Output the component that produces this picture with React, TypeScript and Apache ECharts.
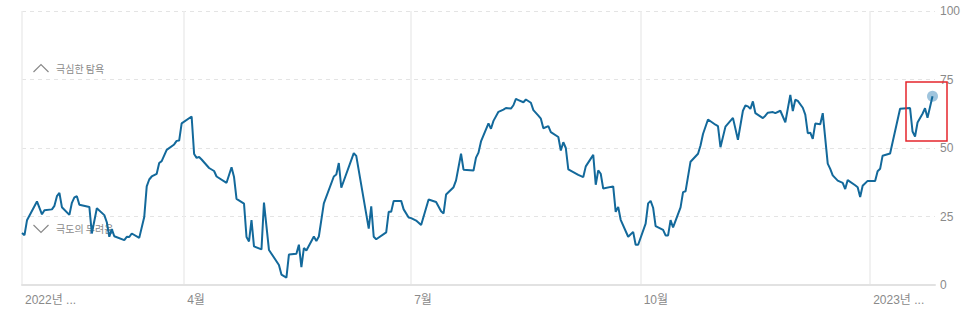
import React, { useEffect, useRef } from 'react';
import * as echarts from 'echarts';

// ---- data ----
const START_DATE = '2022-01-26';
const DAY_COUNT = 367; // calendar days shown on the axis, 2022-01-26 .. 2023-01-27

// days since START_DATE of each visible vertex of the index line
const pointDays = [
  0, 1, 2, 6, 8, 9, 12, 13, 14, 15, 16, 19, 20, 21, 22, 23, 27, 28, 30, 33,
  34, 35, 36, 37, 41, 42, 43, 44, 47, 49, 50, 51, 52, 54, 55, 56, 58, 61, 62, 63,
  64, 68, 69, 70, 71, 72, 75, 77, 78, 82, 84, 85, 86, 89, 90, 91, 92, 93, 96, 97,
  99, 103, 104, 106, 107, 110, 111, 112, 113, 114, 117, 118, 119, 121, 125, 126, 127, 128, 133, 134,
  139, 140, 141, 142, 146, 147, 148, 149, 152, 153, 155, 156, 158, 160, 163, 166, 168, 169, 170, 173,
  174, 176, 177, 181, 182, 183, 184, 187, 188, 189, 191, 193, 194, 196, 197, 198, 199, 201, 202, 204,
  205, 207, 208, 209, 211, 212, 215, 216, 217, 218, 219, 223, 225, 226, 229, 230, 231, 232, 233, 237,
  238, 239, 240, 243, 245, 246, 247, 250, 251, 252, 253, 254, 257, 258, 259, 260, 261, 264, 265, 266,
  268, 271, 272, 273, 275, 278, 279, 280, 282, 285, 287, 289, 290, 291, 292, 293, 294, 297, 298, 299,
  301, 302, 304, 306, 308, 309, 310, 311, 313, 314, 315, 316, 317, 318, 320, 321, 323, 324, 325, 327,
  329, 330, 331, 334, 335, 336, 337, 339, 342, 343, 344, 345, 348, 349, 352, 356, 357, 358, 359, 361,
  362, 363, 365,
];

const pointValues = [
  19.0, 18.2, 23.6, 30.5, 25.8, 27.3, 27.6, 28.9, 32.4, 33.6, 28.4, 25.6, 30.0, 32.0, 32.4, 29.3, 28.5, 18.8, 28.0, 25.5,
  22.9, 17.6, 20.4, 17.8, 16.4, 17.6, 17.5, 18.8, 17.2, 24.8, 36.0, 38.5, 39.6, 40.6, 44.5, 45.2, 49.3, 51.3, 52.6, 52.7,
  59.0, 61.5, 47.8, 46.4, 46.7, 45.8, 42.7, 41.6, 39.6, 37.3, 43.0, 39.4, 31.4, 29.7, 17.5, 15.9, 23.7, 14.1, 13.0, 30.1,
  12.8, 7.3, 3.8, 2.7, 11.1, 11.4, 14.7, 6.5, 13.5, 12.6, 17.7, 16.1, 17.7, 29.8, 39.6, 40.3, 44.5, 35.5, 48.1, 47.1,
  20.6, 28.7, 17.6, 16.7, 19.2, 26.7, 26.7, 30.7, 30.7, 27.6, 24.6, 24.4, 23.5, 21.9, 31.2, 30.3, 26.9, 26.1, 33.0, 35.7,
  38.2, 47.9, 42.1, 41.8, 46.5, 48.3, 52.4, 59.0, 57.0, 59.9, 63.2, 64.0, 64.6, 64.4, 65.6, 67.9, 67.5, 66.7, 67.7, 66.5,
  63.8, 61.8, 60.7, 57.2, 58.0, 55.8, 54.0, 49.1, 52.1, 50.0, 42.2, 40.2, 39.4, 43.3, 47.5, 36.6, 41.8, 40.6, 35.2, 36.0,
  26.7, 28.5, 23.8, 17.6, 19.4, 14.7, 14.7, 22.4, 29.8, 30.7, 28.2, 21.5, 20.1, 18.1, 18.1, 23.7, 21.0, 28.3, 33.9, 34.2,
  45.0, 47.9, 50.9, 55.1, 60.4, 58.5, 58.0, 50.3, 57.8, 61.0, 53.0, 63.6, 65.5, 65.2, 64.3, 67.0, 62.7, 60.9, 61.8, 62.9,
  63.1, 62.7, 63.6, 59.4, 69.4, 63.5, 67.6, 67.2, 64.7, 62.2, 55.4, 55.6, 53.3, 58.9, 58.7, 62.7, 44.3, 42.4, 40.0, 38.1,
  37.3, 35.0, 38.3, 36.4, 35.7, 32.1, 36.2, 38.0, 38.0, 41.5, 42.4, 47.2, 48.0, 52.1, 64.3, 64.6, 56.0, 54.2, 59.3, 62.5,
  64.5, 61.0, 68.9,
];

const xLabelDates = ['2022-01-26', '2022-04-01', '2022-07-01', '2022-10-01', '2023-01-01'];
const xLabelTexts = ['2022년 ...', '4월', '7월', '10월', '2023년 ...'];
const yMin = 0;
const yMax = 100;
const yStep = 25;
const zoneTexts = ['극심한 탐욕', '극도의 두려움'];

// ---- helpers ----
function buildCategories(): string[] {
  const [y, m, d] = START_DATE.split('-').map(Number);
  const out: string[] = [];
  for (let i = 0; i < DAY_COUNT; i++) {
    out.push(new Date(Date.UTC(y, m - 1, d + i)).toISOString().slice(0, 10));
  }
  return out;
}

const FONT = '"Liberation Sans", Arial, "Noto Sans CJK KR", sans-serif';
const GRAY = '#8a8a8a';

export default function App() {
  const ref = useRef<HTMLDivElement>(null);

  useEffect(() => {
    if (!ref.current) return;
    const chart = echarts.init(ref.current, null, { renderer: 'svg' });

    const categories = buildCategories();
    const lineData: (number | null)[] = categories.map(() => null);
    pointDays.forEach((day, i) => {
      lineData[day] = pointValues[i];
    });
    const labelMap = new Map<string, string>(xLabelDates.map((d, i) => [d, xLabelTexts[i]]));
    const lastDay = pointDays[pointDays.length - 1];
    const lastValue = pointValues[pointValues.length - 1];

    chart.setOption({
      animation: false,
      grid: { left: 22, right: 31, top: 11, bottom: 33 },
      xAxis: {
        type: 'category',
        data: categories,
        boundaryGap: false,
        axisLine: { show: true, lineStyle: { color: '#e2e2e2', width: 2 } },
        axisTick: { show: false },
        axisLabel: {
          interval: (_i: number, v: string) => labelMap.has(v),
          formatter: (v: string) => labelMap.get(v) ?? '',
          align: 'left',
          padding: [0, 0, 0, 3],
          margin: 9,
          color: GRAY,
          fontSize: 12,
          fontFamily: FONT,
        },
        splitLine: {
          show: true,
          interval: (_i: number, v: string) => labelMap.has(v),
          lineStyle: { color: '#ececec', width: 1.5 },
        },
      },
      yAxis: {
        type: 'value',
        position: 'right',
        min: yMin,
        max: yMax,
        interval: yStep,
        axisLine: { show: false },
        axisTick: { show: false },
        axisLabel: { margin: 5, color: GRAY, fontSize: 12, fontFamily: FONT, align: 'left' },
        splitLine: { lineStyle: { color: '#e4e4e4', width: 1, type: [4, 4] } },
      },
      series: [
        {
          type: 'line',
          data: lineData,
          connectNulls: true,
          showSymbol: false,
          symbol: 'none',
          z: 3,
          lineStyle: { color: '#13699b', width: 2 },
          itemStyle: { color: '#13699b' },
        },
        {
          type: 'scatter',
          data: [[lastDay, lastValue]],
          symbolSize: 11,
          z: 2,
          itemStyle: { color: 'rgba(84,150,194,0.7)' },
        },
      ],
      graphic: [
        {
          type: 'polyline',
          z: 1,
          shape: { points: [[33.5, 72], [41, 64.5], [48.5, 72]] },
          style: { stroke: GRAY, lineWidth: 1.2, fill: 'none' },
        },
        {
          type: 'text',
          z: 1,
          x: 56,
          y: 68,
          style: {
            text: zoneTexts[0],
            fill: GRAY,
            fontSize: 10,
            fontFamily: '"Noto Sans CJK KR", sans-serif',
            verticalAlign: 'middle',
          },
        },
        {
          type: 'polyline',
          z: 1,
          shape: { points: [[33.5, 225], [41, 232.5], [48.5, 225]] },
          style: { stroke: GRAY, lineWidth: 1.2, fill: 'none' },
        },
        {
          type: 'text',
          z: 1,
          x: 56,
          y: 228,
          style: {
            text: zoneTexts[1],
            fill: GRAY,
            fontSize: 10,
            fontFamily: '"Noto Sans CJK KR", sans-serif',
            verticalAlign: 'middle',
          },
        },
        {
          type: 'rect',
          z: 10,
          shape: { x: 906, y: 82, width: 41, height: 59 },
          style: { stroke: '#e5262c', lineWidth: 1.5, fill: 'none' },
        },
      ],
    });

    return () => chart.dispose();
  }, []);

  return (
    <div
      ref={ref}
      style={{ position: 'fixed', left: 0, top: 0, width: 966, height: 318, background: '#fff' }}
    />
  );
}
